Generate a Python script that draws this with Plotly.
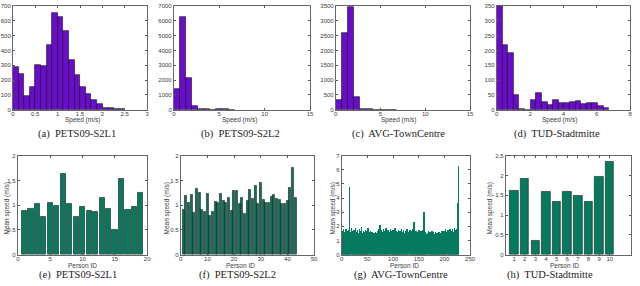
import plotly.graph_objects as go

W, H = 640, 286
PURPLE = "#6a0ccc"
TEAL = "#057a5f"

# ---------------- data ----------------
# (a) PETS09-S2L1 speed histogram
a_bin_start, a_bin_width = 0.0, 0.125
a_counts = [290, 241, 92, 151, 300, 296, 439, 651, 629, 531,
            338, 235, 156, 107, 66, 42, 15, 11, 4, 7]
# (b) PETS09-S2L2 speed histogram
b_bin_start, b_bin_width = 0.0, 0.667
b_counts = [1430, 6250, 2170, 240, 80, 40, 0, 20, 20, 0]
# (c) AVG-TownCentre speed histogram
c_bin_start, c_bin_width = 0.0, 0.68
c_counts = [330, 2600, 3450, 430, 20, 10, 0, 0, 0, 0]
# (d) TUD-Stadtmitte speed histogram
d_bin_start, d_bin_width = 0.0, 0.337
d_counts = [350, 218, 191, 49, 2, 0, 34, 56, 26, 15,
            32, 22, 22, 25, 28, 19, 23, 22, 13, 5]

# (e) PETS09-S2L1 mean speed per person
e_ids = list(range(1, 20))
e_speed = [0.89, 0.93, 1.03, 0.76, 1.04, 0.99, 1.64, 1.02, 0.77, 0.96,
           0.88, 0.87, 1.15, 0.93, 0.51, 1.54, 0.91, 0.97, 1.25]
# (f) PETS09-S2L2 mean speed per person
f_ids = list(range(1, 44))
f_speed = [0.91, 1.19, 1.05, 1.21, 0.85, 1.33, 1.26, 0.91, 0.87, 1.23,
           0.78, 0.87, 1.06, 1.04, 1.23, 1.09, 1.05, 1.16, 0.89, 1.29,
           1.29, 1.03, 1.15, 0.82, 1.08, 1.31, 1.14, 1.39, 1.02, 1.45,
           1.12, 1.04, 1.05, 1.18, 1.21, 1.13, 1.11, 1.03, 1.03, 1.08,
           1.35, 1.75, 1.15]
# (g) AVG-TownCentre mean speed per person
g_speed = [1.72, 1.55, 1.81, 1.48, 1.63, 1.37, 1.58, 1.84, 1.42, 0.82, 1.66, 1.51, 1.74, 1.39, 4.80, 1.62, 1.45, 1.88, 1.33, 1.57,
           1.69, 1.41, 1.76, 1.28, 1.54, 1.92, 1.47, 1.35, 1.61, 1.73, 1.44, 1.58, 1.29, 1.82, 1.50, 1.38, 1.67, 1.95, 1.43, 1.56,
           1.31, 1.71, 1.49, 1.62, 1.36, 1.78, 1.25, 1.53, 1.66, 1.40, 1.87, 1.34, 1.59, 1.46, 1.72, 1.30, 1.52, 1.64, 1.27, 1.48,
           1.39, 1.57, 1.33, 1.45, 1.61, 1.29, 1.52, 1.43, 1.68, 1.36, 1.55, 1.81, 1.47, 2.10, 1.58, 1.41, 1.74, 1.35, 1.63, 1.49,
           1.85, 1.42, 1.56, 1.70, 1.38, 1.93, 1.51, 1.64, 1.32, 1.77, 1.46, 1.59, 1.40, 1.83, 1.53, 1.36, 1.68, 1.48, 1.75, 1.43,
           1.60, 1.37, 1.89, 1.52, 1.45, 1.71, 1.34, 1.62, 1.50, 1.79, 1.41, 1.57, 1.66, 1.30, 1.54, 1.86, 1.44, 1.61, 1.39, 1.73,
           1.48, 1.58, 1.35, 1.69, 1.52, 1.42, 1.80, 1.47, 1.63, 1.33, 1.56, 1.74, 1.40, 1.59, 1.45, 1.67, 1.38, 1.84, 1.51, 2.30,
           1.46, 1.62, 1.36, 1.71, 1.49, 1.55, 1.28, 1.65, 1.43, 1.77, 1.34, 1.58, 1.47, 1.69, 1.25, 1.54, 1.41, 1.73, 1.37, 3.05,
           1.52, 1.31, 1.64, 1.45, 1.19, 1.58, 1.38, 1.70, 1.27, 1.49, 1.62, 1.33, 1.55, 1.12, 1.67, 1.42, 1.29, 1.60, 1.36, 1.51,
           1.24, 1.63, 1.40, 1.08, 1.57, 1.32, 1.48, 0.92, 1.61, 1.35, 1.19, 1.54, 1.43, 0.48, 1.66, 1.30, 1.52, 1.39, 1.71, 1.45,
           1.58, 1.86, 1.42, 1.63, 1.50, 1.74, 1.38, 1.67, 1.55, 1.80, 1.44, 1.61, 1.72, 1.49, 1.84, 1.57, 1.65, 1.46, 1.90, 1.59,
           1.76, 1.53, 1.82, 1.68, 1.95, 3.70, 6.28]
g_ids = list(range(1, len(g_speed) + 1))
# (h) TUD-Stadtmitte mean speed per person
h_ids = list(range(1, 11))
h_speed = [1.61, 1.91, 0.34, 1.58, 1.34, 1.58, 1.49, 1.34, 1.97, 2.34]

captions = ["(a)  PETS09-S2L1", "(b)  PETS09-S2L2", "(c)  AVG-TownCentre", "(d)  TUD-Stadtmitte",
            "(e)  PETS09-S2L1", "(f)  PETS09-S2L2", "(g)  AVG-TownCentre", "(h)  TUD-Stadtmitte"]
x_titles = ["Speed (m/s)"] * 4 + ["Person ID"] * 4
y_title = "Mean speed (m/s)"

# ---------------- layout helpers ----------------
def px_x(x0, x1):
    return [x0 / W, x1 / W]

def px_y(top, bottom):
    return [1 - bottom / H, 1 - top / H]

TOP = px_y(3, 109)
BOT = px_y(156, 257)
domains = [
    (px_x(11, 147), TOP), (px_x(174, 312), TOP), (px_x(338, 474), TOP), (px_x(501, 636), TOP),
    (px_x(16, 147), BOT), (px_x(181, 316), BOT), (px_x(344, 474), BOT), (px_x(510, 637), BOT),
]

tickfont = dict(family="Liberation Sans, Arial", size=6, color="#3a3a3a")
titlefont = dict(family="Liberation Sans, Arial", size=6.5, color="#3a3a3a")

def axis(domain, anchor, rng, tickvals, ticktext=None, standoff=0):
    d = dict(domain=domain, anchor=anchor, range=rng, tickvals=tickvals,
             ticks="inside", ticklen=2, tickcolor="#555", tickwidth=0.7,
             showline=True, linecolor="#666", linewidth=0.8, mirror="ticks",
             showgrid=False, zeroline=False, tickfont=tickfont, ticklabelstandoff=standoff)
    if ticktext is not None:
        d["ticktext"] = ticktext
    return d

def hist_trace(start, width, counts, n):
    centers = [start + width * (i + 0.5) for i in range(len(counts))]
    return go.Bar(x=centers, y=counts, width=width, marker=dict(color=PURPLE, line=dict(color="#111", width=0.6)),
                  xaxis=f"x{n}", yaxis=f"y{n}", showlegend=False)

def bar_trace(ids, vals, n, width=0.8, line=True):
    return go.Bar(x=ids, y=vals, width=width,
                  marker=dict(color=TEAL, line=dict(color="#1a1a1a", width=0.6 if line else 0)),
                  xaxis=f"x{n}", yaxis=f"y{n}", showlegend=False)

fig = go.Figure()
fig.add_trace(hist_trace(a_bin_start, a_bin_width, a_counts, 1))
fig.add_trace(hist_trace(b_bin_start, b_bin_width, b_counts, 2))
fig.add_trace(hist_trace(c_bin_start, c_bin_width, c_counts, 3))
fig.add_trace(hist_trace(d_bin_start, d_bin_width, d_counts, 4))
fig.add_trace(bar_trace(e_ids, e_speed, 5))
fig.add_trace(bar_trace(f_ids, f_speed, 6))
fig.add_trace(bar_trace(g_ids, g_speed, 7, width=0.9, line=False))
fig.add_trace(bar_trace(h_ids, h_speed, 8))

def n(k):
    return "" if k == 1 else str(k)

specs = [
    ([0, 3], [0, 0.5, 1, 1.5, 2, 2.5, 3], ["0", "0.5", "1", "1.5", "2", "2.5", "3"],
     [0, 700], list(range(0, 701, 100))),
    ([0, 15], [0, 5, 10, 15], None, [0, 7000], list(range(0, 7001, 1000))),
    ([0, 15], [0, 5, 10, 15], None, [0, 3500], list(range(0, 3501, 500))),
    ([0, 8], [0, 2, 4, 6, 8], None, [0, 350], list(range(0, 351, 50))),
    ([0, 20], [0, 5, 10, 15, 20], None, [0, 2], [0, 0.5, 1, 1.5, 2]),
    ([0, 50], [0, 10, 20, 30, 40, 50], None, [0, 2], [0, 0.5, 1, 1.5, 2]),
    ([0, 250], [0, 50, 100, 150, 200, 250], None, [0, 7], list(range(0, 8))),
    ([0.2, 12], list(range(1, 11)), None, [0, 2.5], [0, 0.5, 1, 1.5, 2, 2.5]),
]

layout = dict(width=W, height=H, margin=dict(l=0, r=0, t=0, b=0),
              paper_bgcolor="white", plot_bgcolor="white", bargap=0)
for k, (xr, xt, xtt, yr, yt) in enumerate(specs, start=1):
    xd, yd = domains[k - 1]
    layout["xaxis" + n(k)] = axis(xd, "y" + n(k), xr, xt, xtt, standoff=-2)
    layout["yaxis" + n(k)] = axis(yd, "x" + n(k), yr, yt)

annotations = []
# axis titles
xt_pos = [(82, 119), (240, 119), (402, 119), (565, 119),
          (82, 268), (242, 268), (408, 268), (570, 268)]
for text, (cx, cy) in zip(x_titles, xt_pos):
    annotations.append(dict(text=text, x=cx / W, y=1 - cy / H, xref="paper", yref="paper",
                            showarrow=False, xanchor="center", yanchor="middle", font=titlefont))
yt_pos = [(5, 210), (167, 210), (335, 210), (494, 210)]
for (cx, cy) in yt_pos:
    annotations.append(dict(text=y_title, x=cx / W, y=1 - cy / H, xref="paper", yref="paper",
                            showarrow=False, xanchor="center", yanchor="middle", textangle=-90,
                            font=titlefont))
# captions
cap_pos = [(76, 134), (242, 134), (402, 134), (562, 134),
           (77, 278), (238, 278), (404, 278), (555, 278)]
for text, (cx, cy) in zip(captions, cap_pos):
    annotations.append(dict(text=text, x=cx / W, y=1 - cy / H, xref="paper", yref="paper",
                            showarrow=False, xanchor="center", yanchor="middle",
                            font=dict(family="Liberation Serif, serif", size=10.5, color="#222")))
layout["annotations"] = annotations
fig.update_layout(**layout)

fig.write_html("out.html", config={"displayModeBar": False},
               post_script="document.body.style.margin='0';document.body.style.padding='0';document.body.style.overflow='hidden';")
